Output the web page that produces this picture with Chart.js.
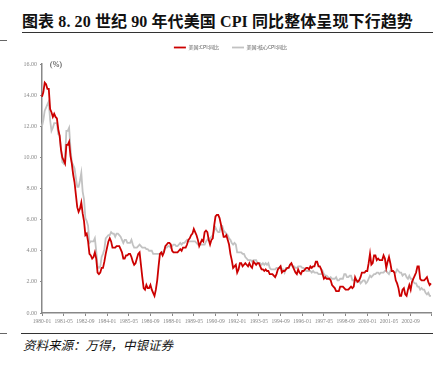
<!DOCTYPE html>
<html><head><meta charset="utf-8">
<script src="https://cdn.jsdelivr.net/npm/chart.js@4.4.1/dist/chart.umd.min.js"></script>
<style>
html,body{margin:0;padding:0;background:#fff;}
#wrap{position:relative;width:447px;height:367px;overflow:hidden;}
#title{position:absolute;left:22px;top:8px;font-family:"Liberation Serif","Noto Sans CJK SC",serif;font-weight:bold;font-size:16px;color:#111;white-space:nowrap;letter-spacing:0.1px;}
.rule{position:absolute;height:1px;background:#333;}
#src{position:absolute;left:23px;top:335px;font-family:"Noto Sans CJK SC",serif;font-style:italic;font-size:12.5px;color:#111;white-space:nowrap;}
#cv{position:absolute;left:0;top:32px;}
</style></head>
<body><div id="wrap">
<div id="title">图表 8. 20 世纪 90 年代美国 CPI 同比整体呈现下行趋势</div>
<div class="rule" style="left:22px;top:32px;width:411px;height:1.3px;"></div>
<div class="rule" style="left:0;top:40px;width:7px;background:#666;"></div>
<div class="rule" style="left:21px;top:333px;width:412px;height:1.3px;"></div>
<div class="rule" style="left:0;top:333px;width:7px;background:#666;"></div>
<div id="src">资料来源：万得，中银证券</div>
<canvas id="cv" width="447" height="294"></canvas>
</div>
<script>
const seriesNames = ["美国:CPI:同比", "美国:核心CPI:同比"];
const startYear = 1980, endYear = 2003;
const cpi = [
13.9,14.2,14.8,14.7,14.4,14.4,13.1,12.9,12.6,12.8,12.6,12.5,
11.8,11.4,10.5,10.0,9.8,9.6,10.8,10.8,11.0,10.1,9.6,8.9,
8.4,7.6,6.8,6.5,6.7,7.1,6.4,5.9,5.0,5.1,4.6,3.8,
3.7,3.5,3.6,3.9,3.5,2.6,2.5,2.6,2.9,2.9,3.3,3.8,
4.2,4.6,4.8,4.6,4.2,4.2,4.2,4.3,4.3,4.3,4.1,3.9,
3.5,3.5,3.7,3.7,3.8,3.8,3.6,3.3,3.1,3.2,3.5,3.8,
3.9,3.1,2.3,1.6,1.5,1.8,1.6,1.6,1.8,1.5,1.3,1.1,
1.5,2.1,3.0,3.8,3.9,3.7,3.9,4.3,4.4,4.5,4.5,4.4,
4.0,3.9,3.9,3.9,3.9,4.0,4.1,4.0,4.2,4.2,4.2,4.4,
4.7,4.8,5.0,5.1,5.4,5.2,5.0,4.7,4.3,4.5,4.7,4.6,
5.2,5.3,5.2,4.7,4.4,4.7,4.8,5.6,6.2,6.3,6.3,6.1,
5.7,5.3,4.9,4.9,5.0,4.7,4.4,3.8,3.4,2.9,3.0,3.1,
2.6,2.8,3.2,3.2,3.0,3.1,3.2,3.1,3.0,3.2,3.0,2.9,
3.3,3.2,3.1,3.2,3.2,3.0,2.8,2.8,2.7,2.8,2.7,2.7,
2.5,2.5,2.5,2.4,2.3,2.5,2.8,2.9,3.0,2.6,2.7,2.7,
2.8,2.9,2.9,3.1,3.2,3.0,2.8,2.6,2.5,2.8,2.6,2.5,
2.7,2.7,2.8,2.9,2.9,2.8,3.0,2.9,3.0,3.0,3.3,3.3,
3.0,3.0,2.8,2.5,2.2,2.3,2.2,2.2,2.2,2.1,1.8,1.7,
1.6,1.4,1.4,1.4,1.7,1.7,1.7,1.6,1.5,1.5,1.5,1.6,
1.7,1.6,1.7,2.3,2.1,2.0,2.1,2.3,2.6,2.6,2.6,2.7,
2.7,3.2,3.8,3.1,3.2,3.7,3.7,3.4,3.5,3.4,3.4,3.4,
3.7,3.5,2.9,3.3,3.6,3.2,2.7,2.7,2.6,2.1,1.9,1.6,
1.1,1.1,1.5,1.6,1.2,1.1,1.5,1.8,1.5,2.0,2.2,2.4,
2.6,3.0,3.0,2.2,2.1,2.1,2.1,2.2,2.3,2.0,1.8,1.9
];
const coreCpi = [
12.0,12.4,13.0,13.2,13.4,13.6,12.4,11.7,11.9,12.2,12.2,12.2,
11.5,11.4,10.6,9.7,9.6,10.0,11.7,11.7,11.9,10.6,9.7,9.5,
9.3,8.7,8.1,8.1,8.5,9.0,7.8,7.3,6.1,5.9,5.6,4.5,
4.6,4.6,4.6,4.8,4.0,3.0,2.9,3.0,3.6,3.8,4.1,4.8,
4.9,5.0,5.0,5.2,5.1,5.1,4.9,5.1,5.1,5.0,4.9,4.7,
4.5,4.7,4.7,4.5,4.5,4.5,4.7,4.4,4.2,4.2,4.2,4.3,
4.4,4.3,4.2,4.2,4.2,4.1,4.1,4.0,4.0,4.0,3.8,3.8,
3.8,3.8,3.8,3.8,3.8,3.9,4.0,4.2,4.2,4.3,4.3,4.2,
4.3,4.4,4.4,4.3,4.3,4.4,4.5,4.4,4.5,4.5,4.6,4.7,
4.6,4.6,4.6,4.6,4.6,4.6,4.5,4.4,4.4,4.4,4.4,4.4,
4.4,4.6,4.7,4.8,4.8,4.9,5.0,5.3,5.5,5.3,5.2,5.2,
5.6,5.6,5.3,5.2,5.1,5.0,4.8,4.7,4.5,4.4,4.5,4.4,
3.9,3.9,3.9,3.9,3.8,3.8,3.6,3.5,3.4,3.4,3.4,3.3,
3.4,3.4,3.4,3.2,3.2,3.2,3.1,3.2,3.1,3.2,3.1,3.2,
2.9,2.8,2.8,2.8,2.8,2.9,2.9,2.9,3.0,2.8,2.8,2.6,
2.9,2.9,2.9,3.1,3.1,3.0,3.0,2.9,2.9,3.0,3.0,3.0,
2.9,2.9,2.8,2.7,2.7,2.7,2.7,2.6,2.7,2.6,2.6,2.6,
2.5,2.5,2.5,2.7,2.5,2.4,2.4,2.3,2.2,2.3,2.2,2.2,
2.2,2.3,2.1,2.1,2.2,2.2,2.2,2.5,2.5,2.3,2.3,2.4,
2.4,2.1,2.1,2.2,2.0,2.1,2.1,1.9,2.0,2.1,2.1,1.9,
2.0,2.2,2.4,2.3,2.4,2.5,2.5,2.6,2.6,2.5,2.6,2.6,
2.6,2.7,2.7,2.6,2.5,2.7,2.7,2.7,2.6,2.6,2.8,2.7,
2.6,2.6,2.4,2.5,2.5,2.3,2.2,2.4,2.2,2.2,2.0,1.9,
1.9,1.7,1.7,1.5,1.6,1.5,1.5,1.3,1.2,1.3,1.1,1.1
];
const months = [];
for (let y = startYear; y <= endYear; y++) for (let m = 1; m <= 12; m++) months.push(y + "-" + String(m).padStart(2, "0"));
const yTicks = [0, 2, 4, 6, 8, 10, 12, 14, 16];
const labelEvery = 16;

const unitPlugin = {
  id: 'unit',
  beforeUpdate(chart) {
    const lg = chart.legend;
    if (lg && !lg._patched) {
      const f = lg.fit;
      lg.fit = function() { f.call(this); this.height = 32; };
      const d = lg.draw;
      lg.draw = function() {
        const c = this.ctx;
        c.save(); c.translate(15, 0); d.apply(this, arguments); c.restore();
      };
      lg._patched = true;
    }
  },
  afterDraw(chart) {
    const ctx = chart.ctx, a = chart.chartArea;
    ctx.save();
    ctx.font = '8px "Liberation Serif", serif';
    ctx.fillStyle = '#333';
    ctx.textBaseline = 'middle';
    ctx.fillText('(%)', a.left + 8, a.top + 1);
    ctx.restore();
  }
};

new Chart(document.getElementById('cv'), {
  type: 'line',
  data: {
    labels: months,
    datasets: [
      {label: seriesNames[0], data: cpi, borderColor: '#CC0000', backgroundColor: '#CC0000', borderWidth: 1.8, pointRadius: 0, tension: 0, pointStyle: 'line'},
      {label: seriesNames[1], data: coreCpi, borderColor: '#C2C2C2', backgroundColor: '#C2C2C2', borderWidth: 1.8, pointRadius: 0, tension: 0, pointStyle: 'line'}
    ]
  },
  options: {
    responsive: false, animation: false,
    layout: {padding: {left: 0, right: 16, top: 0, bottom: 0}},
    plugins: {
      legend: {display: true, position: 'top', labels: {usePointStyle: true, pointStyle: 'line', pointStyleWidth: 12, boxWidth: 12, padding: 13, color: '#555', font: {size: 5, family: '"Noto Sans CJK SC", sans-serif'}}},
      tooltip: {enabled: false}
    },
    scales: {
      x: {
        type: 'category',
        grid: {display: true, drawOnChartArea: false, drawTicks: true, tickLength: 3, color: '#888', lineWidth: 1},
        border: {display: true, color: '#888', width: 1.5},
        ticks: {
          autoSkip: false, maxRotation: 0, minRotation: 0, padding: 2,
          color: '#888', font: {size: 5.5, family: '"Liberation Serif", serif'},
          callback: function(v, i) {
            if (i % labelEvery === 0) return months[i];
            if (i === months.length - 1) return '';
            return null;
          }
        },
        afterFit(s) { s.height = 13; }
      },
      y: {
        min: 0, max: 16,
        afterBuildTicks(s) { s.ticks = yTicks.map(v => ({value: v})); },
        grid: {display: true, drawOnChartArea: false, drawTicks: true, tickLength: 2, color: '#888'},
        border: {display: true, color: '#888', width: 1.5},
        ticks: {color: '#888', padding: 3, font: {size: 6, family: '"Liberation Serif", serif'}, callback: v => Number(v).toFixed(2)},
        afterFit(s) { s.width = 42; }
      }
    }
  },
  plugins: [unitPlugin]
});
</script>
</body></html>
